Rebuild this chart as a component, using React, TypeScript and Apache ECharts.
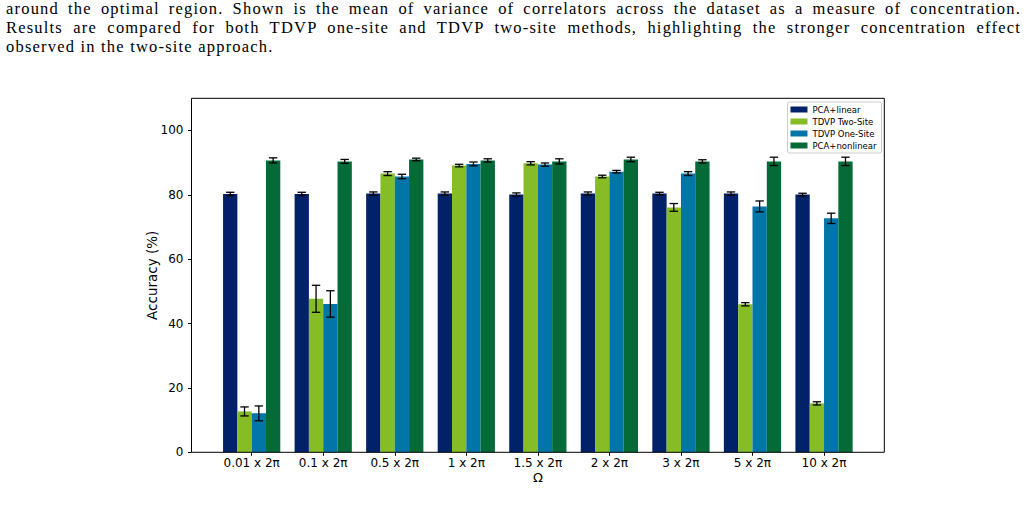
import React, { useEffect, useRef } from "react";
import * as echarts from "echarts";

// Driving frequencies on the x axis
const categories = [
  "0.01 x 2π",
  "0.1 x 2π",
  "0.5 x 2π",
  "1 x 2π",
  "1.5 x 2π",
  "2 x 2π",
  "3 x 2π",
  "5 x 2π",
  "10 x 2π",
];

// Mean accuracy (%) and its spread for each method
const pcaLinear = [80.3, 80.3, 80.4, 80.4, 80.1, 80.4, 80.4, 80.4, 80.1];
const pcaLinearErr = [0.5, 0.5, 0.5, 0.5, 0.5, 0.5, 0.4, 0.5, 0.4];
const tdvpTwoSite = [12.7, 47.7, 86.6, 89.1, 89.8, 85.7, 76.1, 46.0, 15.2];
const tdvpTwoSiteErr = [1.4, 4.2, 0.6, 0.4, 0.5, 0.4, 1.2, 0.5, 0.5];
const tdvpOneSite = [12.1, 46.1, 85.7, 89.6, 89.4, 87.2, 86.6, 76.4, 72.7];
const tdvpOneSiteErr = [2.3, 4.1, 0.7, 0.6, 0.5, 0.4, 0.6, 1.7, 1.6];
const pcaNonlinear = [90.7, 90.4, 91.0, 90.7, 90.4, 91.0, 90.4, 90.4, 90.4];
const pcaNonlinearErr = [0.8, 0.6, 0.4, 0.5, 0.8, 0.7, 0.5, 1.3, 1.3];

const yTicks = [0, 20, 40, 60, 80, 100];

const seriesDefs = [
  { name: "PCA+linear", values: pcaLinear, errors: pcaLinearErr, color: "#012169" },
  { name: "TDVP Two-Site", values: tdvpTwoSite, errors: tdvpTwoSiteErr, color: "#86BC25" },
  { name: "TDVP One-Site", values: tdvpOneSite, errors: tdvpOneSiteErr, color: "#0076A8" },
  { name: "PCA+nonlinear", values: pcaNonlinear, errors: pcaNonlinearErr, color: "#046A38" },
];

const captionLines = [
  "around the optimal region.  Shown is the mean of variance of correlators across the dataset as a measure of concentration.",
  "Results are compared for both TDVP one-site and TDVP two-site methods, highlighting the stronger concentration effect",
  "observed in the two-site approach.",
];

const W = 1027;
const H = 522;
const FONT = "DejaVu Sans";

// Plot frame (pixels)
const frameLeft = 191.5;
const frameRight = 884.3;
const frameTop = 98.3;
const frameBottom = 452.3;
// Category band layout inside the frame
const gridLeft = 215.9;
const gridRight = 859.8;
const band = (gridRight - gridLeft) / categories.length;
const barW = band * 0.2;

export default function App() {
  const ref = useRef<HTMLDivElement>(null);

  useEffect(() => {
    if (!ref.current) return;
    const chart = echarts.init(ref.current, null, { renderer: "svg" });

    const barSeries = seriesDefs.map((s) => ({
      name: s.name,
      type: "bar",
      data: s.values,
      barWidth: barW,
      barGap: "0%",
      itemStyle: { color: s.color },
      z: 2,
    }));

    const errSeries = seriesDefs.map((s, k) => {
      const offset = (k - (seriesDefs.length - 1) / 2) * barW;
      return {
        name: s.name + " error",
        type: "custom",
        z: 4,
        encode: { x: 0, y: 1 },
        data: s.values.map((v, i) => [i, v, s.errors[i]]),
        renderItem: (_params: any, api: any) => {
          const idx = api.value(0);
          const mean = api.value(1);
          const err = api.value(2);
          const top = api.coord([idx, mean + err]);
          const bot = api.coord([idx, mean - err]);
          const x = top[0] + offset;
          const cap = 4.2;
          const style = { stroke: "#000", lineWidth: 1.3 };
          return {
            type: "group",
            children: [
              { type: "line", shape: { x1: x, y1: top[1], x2: x, y2: bot[1] }, style },
              { type: "line", shape: { x1: x - cap, y1: top[1], x2: x + cap, y2: top[1] }, style },
              { type: "line", shape: { x1: x - cap, y1: bot[1], x2: x + cap, y2: bot[1] }, style },
            ],
          };
        },
      };
    });

    chart.setOption({
      animation: false,
      backgroundColor: "#fff",
      grid: {
        left: gridLeft,
        right: W - gridRight,
        top: frameTop,
        bottom: H - frameBottom,
        containLabel: false,
      },
      legend: {
        data: seriesDefs.map((s) => s.name),
        orient: "vertical",
        right: W - 881.5,
        top: 102,
        icon: "rect",
        itemWidth: 17,
        itemHeight: 6,
        itemGap: 3,
        padding: [3, 5, 3, 3],
        selectedMode: false,
        backgroundColor: "#fff",
        borderColor: "#cccccc",
        borderWidth: 1,
        borderRadius: 2,
        textStyle: { fontFamily: FONT, fontSize: 8.5, color: "#000", lineHeight: 9 },
      },
      xAxis: {
        type: "category",
        data: categories,
        name: "Ω",
        nameLocation: "middle",
        nameGap: 19,
        nameMoveOverlap: false,
        nameTextStyle: { fontFamily: FONT, fontSize: 13, color: "#000" },
        axisLine: { show: false },
        axisTick: { show: true, alignWithLabel: true, length: 3.5, lineStyle: { color: "#000", width: 1 } },
        axisLabel: { fontFamily: FONT, fontSize: 12, color: "#000", margin: 5, interval: 0 },
        splitLine: { show: false },
      },
      yAxis: {
        type: "value",
        min: 0,
        max: 110,
        interval: 20,
        offset: gridLeft - frameLeft,
        name: "Accuracy (%)",
        nameLocation: "middle",
        nameGap: 33,
        nameMoveOverlap: false,
        nameTextStyle: { fontFamily: FONT, fontSize: 13.5, color: "#000" },
        axisLine: { show: false },
        axisTick: { show: true, length: 3.5, customValues: yTicks, lineStyle: { color: "#000", width: 1 } },
        axisLabel: { fontFamily: FONT, fontSize: 12, color: "#000", margin: 8, customValues: yTicks },
        splitLine: { show: false },
      },
      graphic: [
        {
          type: "rect",
          z: 10,
          silent: true,
          shape: {
            x: frameLeft,
            y: frameTop,
            width: frameRight - frameLeft,
            height: frameBottom - frameTop,
          },
          style: { fill: "none", stroke: "#000", lineWidth: 1 },
        },
      ],
      series: [...barSeries, ...errSeries],
    });

    return () => chart.dispose();
  }, []);

  const lineStyle = (top: number, justify: boolean): React.CSSProperties => ({
    position: "absolute",
    left: 6,
    width: 1015,
    top,
    height: 19,
    lineHeight: "19px",
    fontSize: 16.5,
    letterSpacing: "1.2px",
    fontFamily: "'Liberation Serif', 'DejaVu Serif', serif",
    color: "#000",
    whiteSpace: justify ? "normal" : "nowrap",
    textAlign: justify ? "justify" : "left",
    textAlignLast: justify ? "justify" : "left",
    overflow: "hidden",
  });

  return (
    <div style={{ position: "absolute", left: 0, top: 0, width: W, height: H, background: "#fff", overflow: "hidden" }}>
      <div ref={ref} style={{ position: "absolute", left: 0, top: 0, width: W, height: H }} />
      {captionLines.map((t, i) => (
        <div key={i} style={lineStyle(-0.7 + i * 18.9, i < 2)}>
          {t}
        </div>
      ))}
    </div>
  );
}
